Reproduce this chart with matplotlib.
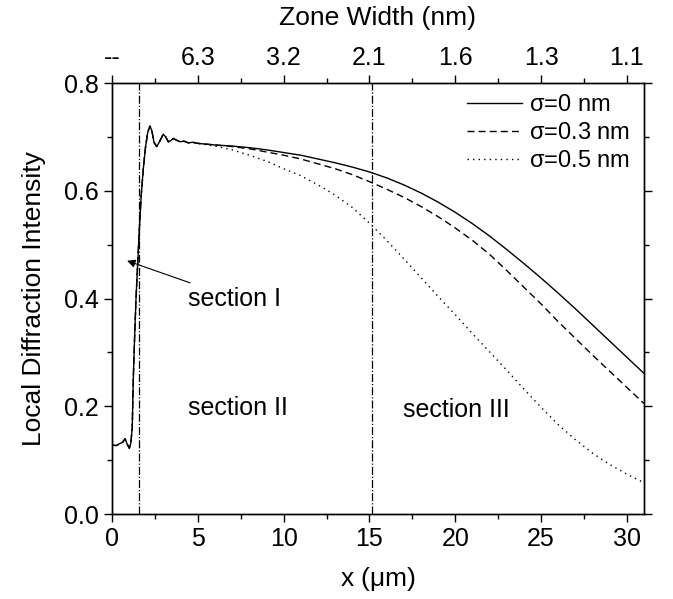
import numpy as np
import matplotlib
matplotlib.use("Agg")
import matplotlib.pyplot as plt

plt.rcParams['font.family'] = ['Liberation Sans', 'DejaVu Sans']
plt.rcParams['mathtext.fontset'] = 'custom'
plt.rcParams['mathtext.rm'] = 'Liberation Sans'
plt.rcParams['mathtext.it'] = 'Liberation Sans'

# common start (all three curves overlap here)
x_start = [0, 0.25, 0.47, 0.62, 0.76, 0.88, 1.01, 1.1, 1.18, 1.24, 1.32, 1.4, 1.49, 1.58, 1.7,
           1.82, 1.95, 2.08, 2.21, 2.32, 2.45, 2.6, 2.75, 2.99, 3.13, 3.28, 3.42, 3.57, 3.76,
           3.96, 4.2, 4.45, 4.7]
y_start = [0.128, 0.127, 0.131, 0.133, 0.140, 0.130, 0.122, 0.132, 0.160, 0.249, 0.330, 0.400,
           0.460, 0.520, 0.590, 0.639, 0.680, 0.708, 0.720, 0.712, 0.690, 0.682, 0.690, 0.705,
           0.700, 0.691, 0.693, 0.697, 0.694, 0.691, 0.692, 0.689, 0.690]

x_tail = [5, 6, 7, 8, 9, 10, 11, 12, 13, 14, 15, 16, 17, 18, 19, 20, 21, 22, 23, 24, 25, 26, 27,
          28, 29, 30, 31]
sig0 = [0.688, 0.685, 0.683, 0.680, 0.676, 0.671, 0.666, 0.659, 0.652, 0.644, 0.635, 0.624, 0.611,
        0.596, 0.579, 0.560, 0.539, 0.516, 0.491, 0.465, 0.438, 0.410, 0.381, 0.351, 0.321, 0.291,
        0.261]
sig03 = [0.688, 0.685, 0.682, 0.678, 0.672, 0.666, 0.659, 0.650, 0.641, 0.630, 0.617, 0.603, 0.588,
         0.571, 0.552, 0.531, 0.508, 0.482, 0.452, 0.421, 0.390, 0.357, 0.326, 0.295, 0.265, 0.235,
         0.205]
sig05 = [0.688, 0.683, 0.676, 0.666, 0.655, 0.641, 0.628, 0.611, 0.592, 0.569, 0.540, 0.508, 0.474,
         0.439, 0.404, 0.370, 0.335, 0.301, 0.267, 0.232, 0.198, 0.166, 0.138, 0.113, 0.092, 0.074,
         0.058]

top_ticks = [0, 5, 10, 15, 20, 25, 30]
top_labels = ['--', '6.3', '3.2', '2.1', '1.6', '1.3', '1.1']
section_lines = [1.6, 15.15]

x_all = x_start + x_tail

fig = plt.figure(figsize=(6.73, 5.99), dpi=100)
ax = fig.add_axes([0.1664, 0.1419, 0.7905, 0.7195])

ax.plot(x_all, y_start + sig05, color='k', lw=1.0, ls=(0, (1, 3)), label=r'$\sigma$=0.5 nm', zorder=2)
ax.plot(x_all, y_start + sig03, color='k', lw=1.0, ls=(0, (5, 3)), label=r'$\sigma$=0.3 nm', zorder=3)
ax.plot(x_all, y_start + sig0, color='k', lw=1.0, ls='-', label=r'$\sigma$=0 nm', zorder=4)

for xv in section_lines:
    ax.axvline(xv, color='k', lw=0.9, ls='-.', zorder=1)

ax.set_xlim(0, 31)
ax.set_ylim(0, 0.8)
ax.set_xticks(np.arange(0, 31, 5))
ax.set_xticks(np.arange(2.5, 31, 5), minor=True)
ax.set_yticks(np.arange(0, 0.81, 0.2))
ax.set_yticks(np.arange(0.1, 0.8, 0.2), minor=True)
ax.yaxis.set_major_formatter(matplotlib.ticker.FormatStrFormatter('%.1f'))
ax.tick_params(which='both', direction='out', labelsize=18, right=True)
ax.tick_params(which='major', length=6, width=1)
ax.tick_params(which='minor', length=3.5, width=1)
ax.set_xlabel(r'x ($\mu$m)', fontsize=19, labelpad=10)
ax.set_ylabel('Local Diffraction Intensity', fontsize=19, labelpad=13)

ax2 = ax.twiny()
ax2.set_xlim(ax.get_xlim())
ax2.set_xticks(top_ticks)
ax2.set_xticklabels(top_labels)
ax2.set_xticks(np.arange(2.5, 31, 5), minor=True)
ax2.tick_params(which='both', direction='out', labelsize=18)
ax2.tick_params(which='major', length=6, width=1)
ax2.tick_params(which='minor', length=3.5, width=1)
ax2.set_xlabel('Zone Width (nm)', fontsize=19, labelpad=15)

for a in (ax, ax2):
    for s in a.spines.values():
        s.set_linewidth(1.0)

handles, labels = ax.get_legend_handles_labels()
ax.legend(handles[::-1], labels[::-1], loc='upper right', bbox_to_anchor=(1.0, 1.007),
          frameon=False, fontsize=17, handlelength=2.3, handletextpad=0.3,
          labelspacing=0.25, borderaxespad=0.2)

ax.annotate('section I', xy=(0.88, 0.47), xytext=(4.45, 0.40), fontsize=18, va='center',
            arrowprops=dict(arrowstyle='-|>', color='k', lw=0.8, shrinkA=2, shrinkB=0,
                            mutation_scale=12))
ax.text(4.45, 0.197, 'section II', fontsize=18, va='center')
ax.text(16.95, 0.193, 'section III', fontsize=18, va='center')

fig.savefig('out.png', dpi=100)
